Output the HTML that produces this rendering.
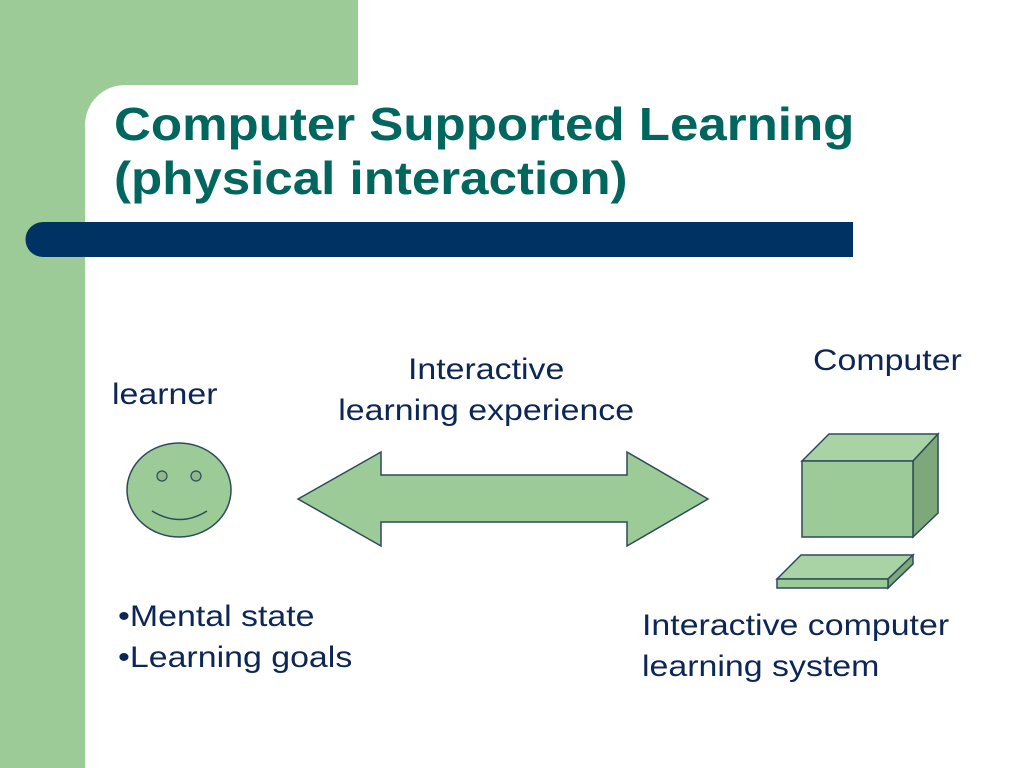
<!DOCTYPE html>
<html><head><style>
body{margin:0;width:1024px;height:768px;position:relative;overflow:hidden;background:#fff;font-family:"Liberation Sans",Arial,sans-serif}
.t{position:absolute;color:#0c2656;font-size:30px;line-height:41px;white-space:nowrap;transform-origin:0 0;transform:scaleX(1.13)}
</style></head><body>
<svg width="1024" height="768" style="position:absolute;left:0;top:0">
<rect x="0" y="0" width="358" height="85" fill="#9dcb98"/>
<rect x="0" y="0" width="85" height="768" fill="#9dcb98"/>
<path d="M85 85 L85 125 A40 40 0 0 1 125 85 Z" fill="#9dcb98"/>
<path d="M43 222 H853 V257 H43 A17.5 17.5 0 0 1 43 222 Z" fill="#003363"/>
<ellipse cx="179" cy="490" rx="52" ry="47" fill="#9dcb98" stroke="#2d4a5c" stroke-width="1.5"/>
<ellipse cx="162" cy="476" rx="5" ry="5" fill="#8fb98a" stroke="#2d4a5c" stroke-width="1.2"/>
<ellipse cx="196" cy="476" rx="5" ry="5" fill="#8fb98a" stroke="#2d4a5c" stroke-width="1.2"/>
<path d="M152 511 Q180 528 207 511" fill="none" stroke="#2d4a5c" stroke-width="1.5"/>
<polygon points="298,499 381,452 381,475 627,475 627,452 708,499 627,546 627,522 381,522 381,546" fill="#9dcb98" stroke="#2d4a5c" stroke-width="1.5"/>
<polygon points="802,461 829,434 938,434 913,461" fill="#a9d3a4" stroke="#2d4a5c" stroke-width="1.5"/>
<polygon points="913,461 938,434 938,513 913,537" fill="#7fa87a" stroke="#2d4a5c" stroke-width="1.5"/>
<rect x="802" y="461" width="111" height="76" fill="#9dcb98" stroke="#2d4a5c" stroke-width="1.5"/>
<polygon points="777,579 801,555 913,555 888,579" fill="#a9d3a4" stroke="#2d4a5c" stroke-width="1.5"/>
<polygon points="888,579 913,555 913,564 888,588" fill="#7fa87a" stroke="#2d4a5c" stroke-width="1.5"/>
<rect x="777" y="579" width="111" height="9" fill="#9dcb98" stroke="#2d4a5c" stroke-width="1.5"/>
</svg>
<div style="position:absolute;left:114px;top:97px;color:#00665e;font-weight:bold;font-size:46px;line-height:54px;white-space:nowrap;transform-origin:0 0;transform:scaleX(1.11)">Computer Supported Learning<br>(physical interaction)</div>
<div class="t" style="left:112px;top:374px">learner</div>
<div class="t" style="left:337px;top:349px;text-align:center;width:264px">Interactive<br>learning experience</div>
<div class="t" style="left:813px;top:340px">Computer</div>
<div class="t" style="left:118px;top:596px">•Mental state<br>•Learning goals</div>
<div class="t" style="left:642px;top:605px">Interactive computer<br>learning system</div>
</body></html>
